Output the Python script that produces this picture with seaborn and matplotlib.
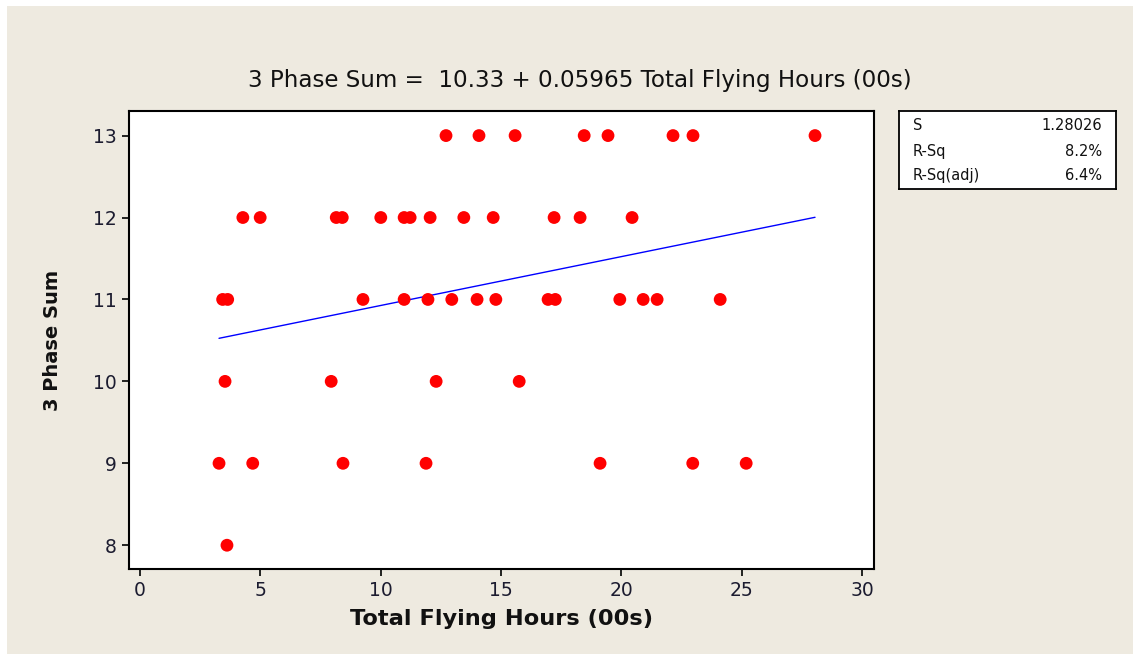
import matplotlib
matplotlib.use("Agg")
import matplotlib.pyplot as plt
from matplotlib.patches import Rectangle
import numpy as np
import pandas as pd
import seaborn as sns

# ---- data ----
hours_13 = [12.71, 14.08, 15.58, 18.45, 19.44, 22.14, 22.97, 28.04]
hours_12 = [4.27, 4.99, 8.15, 8.40, 10.00, 10.97, 11.22, 12.05, 13.45, 14.67, 17.20, 18.28, 20.44]
hours_11 = [3.43, 3.64, 9.26, 10.97, 11.96, 12.95, 14.00, 14.78, 16.95, 17.25, 19.93, 20.90, 21.48, 24.10]
hours_10 = [3.53, 7.94, 12.30, 15.75]
hours_9 = [3.28, 4.68, 8.43, 11.88, 19.11, 22.96, 25.18]
hours_8 = [3.61]
phase_levels = [13, 12, 11, 10, 9, 8]

intercept = 10.33
slope = 0.05965
stats_labels = ["S", "R-Sq", "R-Sq(adj)"]
stats_values = ["1.28026", "8.2%", "6.4%"]

title = "3 Phase Sum =  10.33 + 0.05965 Total Flying Hours (00s)"
xlabel = "Total Flying Hours (00s)"
ylabel = "3 Phase Sum"
xticks = [0, 5, 10, 15, 20, 25, 30]
yticks = [8, 9, 10, 11, 12, 13]

groups = [hours_13, hours_12, hours_11, hours_10, hours_9, hours_8]
xs, ys = [], []
for lvl, g in zip(phase_levels, groups):
    xs += g
    ys += [lvl] * len(g)
df = pd.DataFrame({"x": xs, "y": ys})

xfit = np.array([min(xs), max(xs)])
fit_df = pd.DataFrame({"x": xfit, "y": intercept + slope * xfit})

# ---- figure ----
sns.set_theme(style="white")
plt.rcParams["font.family"] = ["DejaVu Sans"]

BG = "#EEEAE0"
W, H = 1133, 654
fig = plt.figure(figsize=(W / 100, H / 100), dpi=100, facecolor="white")
fig.patches.append(Rectangle((7 / W, 0), 1 - 7 / W, 1 - 6 / H,
                             transform=fig.transFigure, facecolor=BG,
                             edgecolor="none", zorder=-10))

ax = fig.add_axes([129 / W, 85 / H, (874 - 129) / W, (569 - 111) / H])
ax.set_facecolor("white")

sns.scatterplot(data=df, x="x", y="y", ax=ax, color="#FF0000", s=85,
                edgecolor="none", linewidth=0, zorder=3)
sns.lineplot(data=fit_df, x="x", y="y", ax=ax, color="#0000FF", lw=1.0, zorder=2)

ax.set_xlim(-0.46, 30.49)
ax.set_ylim(7.71, 13.30)
ax.set_xticks(xticks)
ax.set_yticks(yticks)
ax.tick_params(axis="both", direction="out", length=5, width=1.2, color="black",
               labelsize=13.5, labelcolor="#1c1c30", pad=4,
               bottom=True, left=True)
for sp in ax.spines.values():
    sp.set_color("black")
    sp.set_linewidth(1.5)

ax.set_xlabel(xlabel, fontsize=16.2, fontweight="bold", labelpad=6, color="#111111")
ax.set_ylabel(ylabel, fontsize=14, fontweight="bold", labelpad=22, color="#111111")
fig.text(580 / W, 1 - 80 / H, title, ha="center", va="center", fontsize=16.6,
         color="#111111")

# stats box
bx = fig.add_axes([899 / W, (H - 189) / H, (1116 - 899) / W, (189 - 111) / H])
bx.set_facecolor("white")
bx.set_xticks([])
bx.set_yticks([])
for sp in bx.spines.values():
    sp.set_color("black")
    sp.set_linewidth(1.3)
for i, (lab, val) in enumerate(zip(stats_labels, stats_values)):
    yy = [0.81, 0.48, 0.17][i]
    bx.text(0.065, yy, lab, ha="left", va="center", fontsize=10.5, transform=bx.transAxes,
            color="#111111")
    bx.text(0.935, yy, val, ha="right", va="center", fontsize=10.5, transform=bx.transAxes,
            color="#111111")

fig.savefig("out.png", dpi=100, facecolor=fig.get_facecolor())
